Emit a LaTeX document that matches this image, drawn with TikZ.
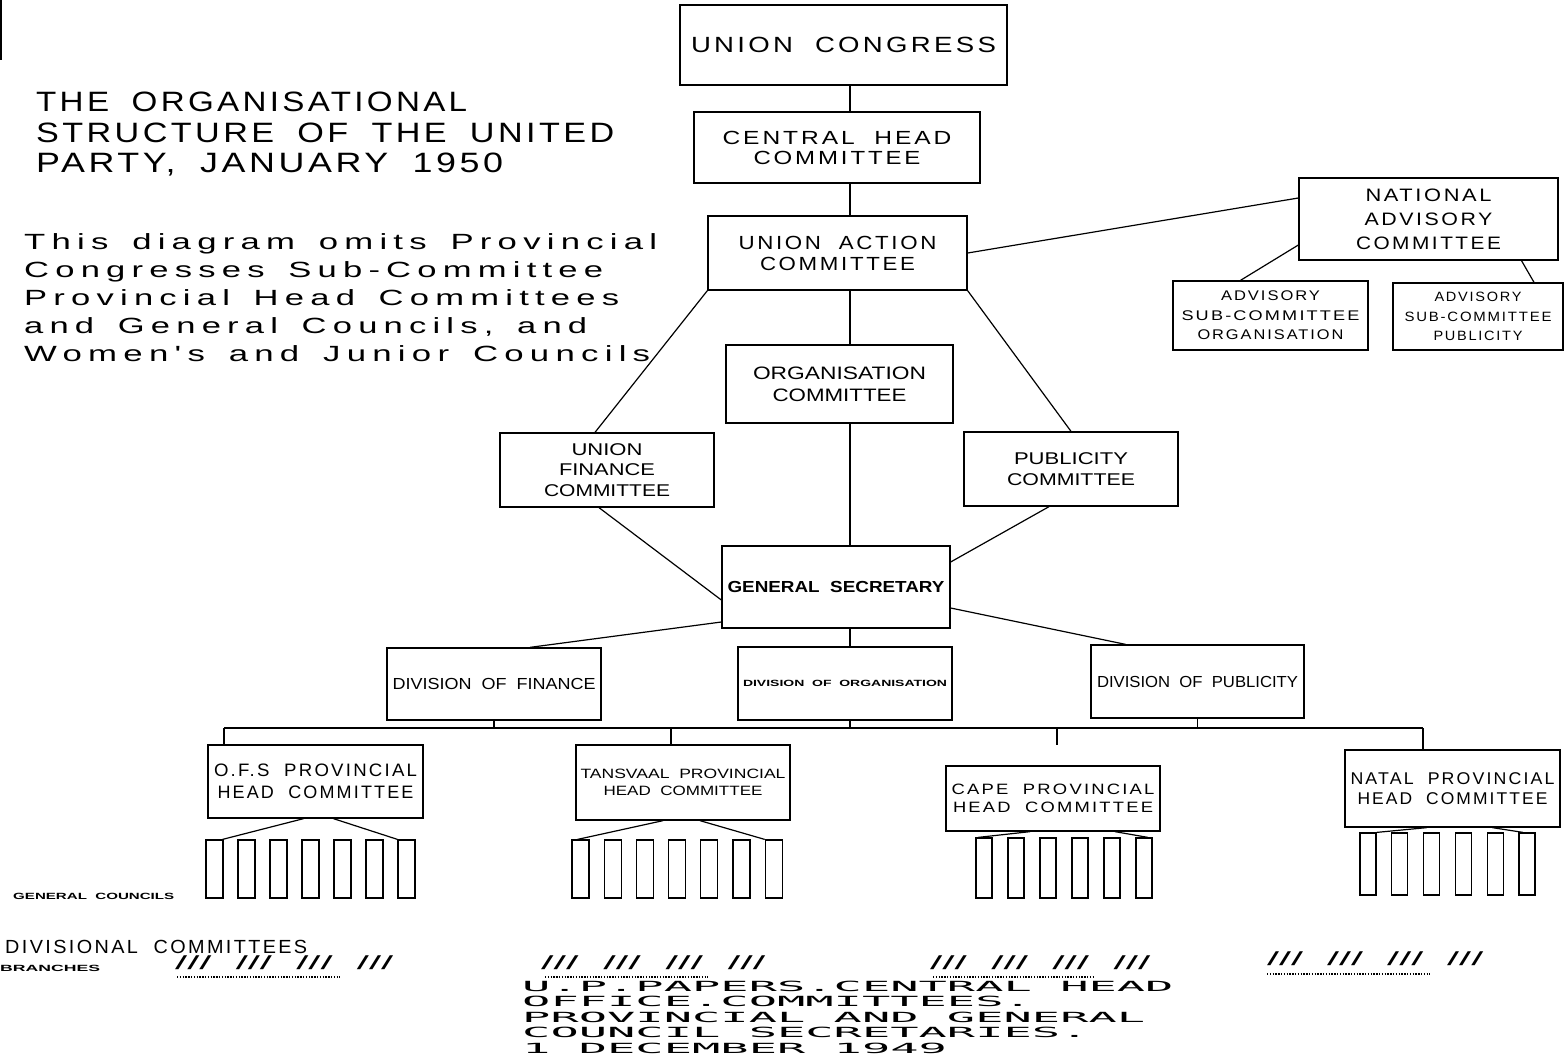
\documentclass[tikz,border=0pt]{standalone}
\usepackage{fontspec}
\setmainfont{Liberation Sans}
\newfontfamily\fA[LetterSpace=12,WordSpace=2]{Liberation Sans}
\newfontfamily\fT[LetterSpace=10,WordSpace=1.8]{Liberation Sans}
\newfontfamily\fD[LetterSpace=18,WordSpace=1.5]{Liberation Sans}
\newfontfamily\fN{Liberation Sans}
\newfontfamily\fW[WordSpace=2]{Liberation Sans}
\newfontfamily\fM{DejaVu Sans Mono}
\usetikzlibrary{calc}
\newlength\fitlen
\newcommand\fitto[2]{\settowidth{\fitlen}{#2}\pgfmathsetmacro\fitr{#1/\fitlen}\scalebox{\fitr}[1]{#2}}
\tikzset{
  box/.style={draw, line width=1.3pt, inner sep=0pt, align=center},
  conn/.style={line width=1.2pt},
  bar/.style={draw, line width=1.2pt, minimum width=17pt, minimum height=58pt, inner sep=0pt},
  dotline/.style={line width=2pt, dash pattern=on 1.3pt off 1.5pt},
  lab/.style={anchor=west, inner sep=0pt}
}
\begin{document}
\begin{tikzpicture}[x=1pt,y=-1pt]
\useasboundingbox[fill=white] (0,0) rectangle (1566,1057);
\draw[line width=2pt] (1,0) -- (1,60);

% title and note
\node[anchor=north west, inner sep=0pt, align=left, font=\fT\fontsize{28}{30.5}\selectfont] (title) at (36,92)
  {\fitto{431}{THE ORGANISATIONAL}\\\fitto{578}{STRUCTURE OF THE UNITED}\\\fitto{467}{PARTY, JANUARY 1950}};
\node[anchor=north west, inner sep=0pt, align=left, font=\fD\fontsize{22}{28.2}\selectfont] (note) at (24,233)
  {\fitto{633}{This diagram omits Provincial}\\\fitto{579}{Congresses Sub-Committee}\\\fitto{595}{Provincial Head Committees}\\\fitto{563}{and General Councils, and}\\\fitto{626}{Women's and Junior Councils}};

% main boxes
\node[box, minimum width=327pt, minimum height=80pt, font=\fA\fontsize{22}{26}\selectfont] (uc) at (843.5,45) {\fitto{305}{UNION CONGRESS}};
\node[box, minimum width=286pt, minimum height=71pt, font=\fA\fontsize{19}{20}\selectfont] (chc) at (837,147.5) {\fitto{229}{CENTRAL HEAD}\\\fitto{167}{COMMITTEE}};
\node[box, minimum width=259pt, minimum height=74pt, font=\fA\fontsize{19}{21}\selectfont] (uac) at (837.5,253) {\fitto{198}{UNION ACTION}\\\fitto{155}{COMMITTEE}};
\node[box, minimum width=259pt, minimum height=82pt, font=\fA\fontsize{18}{24}\selectfont] (nac) at (1428.5,219) {\fitto{126}{NATIONAL}\\\fitto{128}{ADVISORY}\\\fitto{145}{COMMITTEE}};
\node[box, minimum width=195pt, minimum height=69pt, font=\fA\fontsize{14}{19.5}\selectfont] (advorg) at (1270.5,315.5) {\fitto{99}{ADVISORY}\\\fitto{178}{SUB-COMMITTEE}\\\fitto{146}{ORGANISATION}};
\node[box, minimum width=170pt, minimum height=67pt, font=\fA\fontsize{13.5}{19.5}\selectfont] (advpub) at (1478,316.5) {\fitto{87}{ADVISORY}\\\fitto{147}{SUB-COMMITTEE}\\\fitto{89}{PUBLICITY}};
\node[box, minimum width=227pt, minimum height=78pt, font=\fN\fontsize{18}{22}\selectfont] (orgc) at (839.5,384) {\fitto{173}{ORGANISATION}\\\fitto{134}{COMMITTEE}};
\node[box, minimum width=214pt, minimum height=74pt, font=\fN\fontsize{17}{20.5}\selectfont] (uf) at (607,470) {\fitto{71}{UNION}\\\fitto{96}{FINANCE}\\\fitto{126}{COMMITTEE}};
\node[box, minimum width=214pt, minimum height=74pt, font=\fN\fontsize{17}{21}\selectfont] (pub) at (1071,469) {\fitto{114}{PUBLICITY}\\\fitto{128}{COMMITTEE}};
\node[box, minimum width=228pt, minimum height=82pt, font=\fN\bfseries\fontsize{16}{20}\selectfont] (gs) at (836,587) {\fitto{217}{GENERAL SECRETARY}};
\node[box, minimum width=214pt, minimum height=72pt, font=\fW\fontsize{16}{18}\selectfont] (divfin) at (494,684) {\fitto{203}{DIVISION OF FINANCE}};
\node[box, minimum width=214pt, minimum height=73pt, font=\fN\bfseries\fontsize{9}{10}\selectfont] (divorg) at (845,683.5) {\fitto{204}{DIVISION OF ORGANISATION}};
\node[box, minimum width=213pt, minimum height=73pt, font=\fW\fontsize{16}{18}\selectfont] (divpub) at (1197.5,681.5) {\fitto{201}{DIVISION OF PUBLICITY}};

% provincial boxes
\node[box, minimum width=215pt, minimum height=73pt, font=\fA\fontsize{18}{22}\selectfont] (ofs) at (315.5,781.5) {\fitto{203}{O.F.S PROVINCIAL}\\\fitto{196}{HEAD COMMITTEE}};
\node[box, minimum width=214pt, minimum height=75pt, font=\fN\fontsize{13.5}{17.5}\selectfont] (tv) at (683,782.5) {\fitto{205}{TANSVAAL PROVINCIAL}\\\fitto{159}{HEAD COMMITTEE}};
\node[box, minimum width=214pt, minimum height=65pt, font=\fA\fontsize{15}{18}\selectfont] (cape) at (1053,798.5) {\fitto{203}{CAPE PROVINCIAL}\\\fitto{200}{HEAD COMMITTEE}};
\node[box, minimum width=215pt, minimum height=77pt, font=\fA\fontsize{17}{20}\selectfont] (natal) at (1452.5,788.5) {\fitto{204}{NATAL PROVINCIAL}\\\fitto{190}{HEAD COMMITTEE}};

% general council bars
\foreach \i in {1,...,7} \node[bar] (ofs-\i) at ({214.5+32*(\i-1)},869) {};
\foreach \i in {1,...,7} \node[bar] (tv-\i) at ({580.5+32.2*(\i-1)},869) {};
\foreach \i in {1,...,6} \node[bar, minimum width=16pt, minimum height=60pt] (cape-\i) at ({984+32*(\i-1)},868) {};
\foreach \i in {1,...,6} \node[bar, minimum width=16pt, minimum height=62pt] (natal-\i) at ({1368+31.8*(\i-1)},864) {};

% connectors
\coordinate (sp) at (850,0);
\draw[conn] (uc.south -| sp) -- (chc.north -| sp);
\draw[conn] (chc.south -| sp) -- (uac.north -| sp);
\draw[conn] (uac.south -| sp) -- (orgc.north -| sp);
\draw[conn] (orgc.south -| sp) -- (gs.north -| sp);
\draw[conn] (gs.south -| sp) -- (divorg.north -| sp);
\draw[conn] (uac.south west) -- ([xshift=-12pt]uf.north);
\draw[conn] (uac.south east) -- (pub.north);
\draw[conn] ([xshift=-8pt]uf.south) -- ([yshift=-13pt]gs.west);
\draw[conn] ([xshift=-22pt]pub.south) -- ([yshift=25pt]gs.east);
\draw[conn] ([yshift=-35pt]gs.west) -- ([xshift=36pt]divfin.north);
\draw[conn] ([yshift=-21pt]gs.east) -- ([xshift=-72pt]divpub.north);
\draw[conn] (uac.east) -- ([yshift=21pt]nac.west);
\draw[conn] ([yshift=-26pt]nac.west) -- ([xshift=-30pt]advorg.north);
\draw[conn] ([xshift=93pt]nac.south) -- ([xshift=56pt]advpub.north);

% bus
\coordinate (busL) at (224,728);
\coordinate (busR) at (1423,728);
\coordinate (tvdrop) at (671,728);
\coordinate (capedrop) at (1057,728);
\coordinate (capeend) at (1057,745);
\draw[conn] (busL) -- (busR);
\draw[conn] (divfin.south) -- (divfin.south |- busL);
\draw[conn] (divorg.south -| sp) -- (sp |- busL);
\draw[conn] (divpub.south) -- (divpub.south |- busL);
\draw[conn] (busL) -- (busL |- ofs.north);
\draw[conn] (tvdrop) -- (tvdrop |- tv.north);
\draw[conn] (capedrop) -- (capeend);
\draw[conn] (busR) -- (busR |- natal.north);

% provincial to councils
\draw[conn] ([xshift=-12pt]ofs.south) -- ([xshift=8pt]ofs-1.north);
\draw[conn] ([xshift=18pt]ofs.south) -- ([xshift=-9pt]ofs-7.north);
\draw[conn] ([xshift=-20pt]tv.south) -- ([xshift=-3pt]tv-1.north);
\draw[conn] ([xshift=17pt]tv.south) -- ([xshift=-9pt]tv-7.north);
\draw[conn] ([xshift=-23pt]cape.south) -- ([xshift=-6pt]cape-1.north);
\draw[conn] ([xshift=62pt]cape.south) -- ([xshift=4pt]cape-6.north);
\draw[conn] ([xshift=-26pt]natal.south) -- (natal-1.north east);
\draw[conn] ([xshift=40pt]natal.south) -- ([xshift=-4pt]natal-6.north);

% bottom labels
\node[lab, font=\fN\bfseries\fontsize{9}{10}\selectfont] (gclab) at (13,896) {\fitto{161}{GENERAL COUNCILS}};
\node[lab, font=\fA\fontsize{19}{20}\selectfont] (dclab) at (5,947) {\fitto{302}{DIVISIONAL COMMITTEES}};
\node[lab, font=\fN\bfseries\fontsize{9}{10}\selectfont] (brlab) at (0,968) {\fitto{100}{BRANCHES}};

\node[lab, font=\fN\fontsize{19}{20}\selectfont] (sl1) at (175,963) {\fitto{218}{/// /// /// ///}};
\node[lab, font=\fN\fontsize{19}{20}\selectfont] (sl2) at (541,963) {\fitto{224}{/// /// /// ///}};
\node[lab, font=\fN\fontsize{19}{20}\selectfont] (sl3) at (930,963) {\fitto{220}{/// /// /// ///}};
\node[lab, font=\fN\fontsize{19}{20}\selectfont] (sl4) at (1267,959) {\fitto{216}{/// /// /// ///}};
\draw[dotline] (177,977) -- (340,977);
\draw[dotline] (545,977) -- (708,977);
\draw[dotline] (933,977) -- (1095,977);
\draw[dotline] (1267,974) -- (1430,974);

% source
\node[anchor=north west, inner sep=0pt] (src) at (522,980)
  {\scalebox{3.36}[1]{\fM\fontsize{14}{15.5}\selectfont\begin{tabular}{@{}l@{}}U.P.PAPERS.CENTRAL HEAD\\OFFICE.COMMITTEES.\\PROVINCIAL AND GENERAL\\COUNCIL SECRETARIES.\\1 DECEMBER 1949\end{tabular}}};
\end{tikzpicture}
\end{document}
